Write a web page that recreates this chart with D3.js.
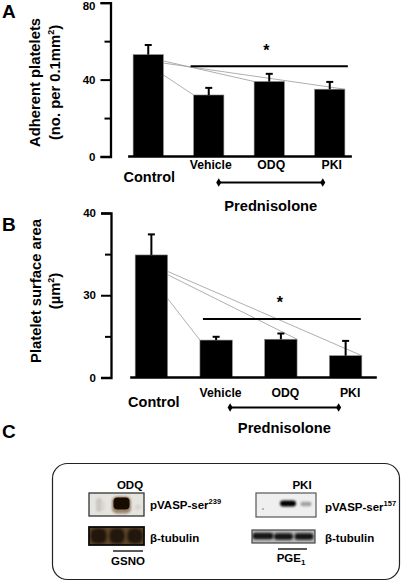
<!DOCTYPE html>
<html>
<head>
<meta charset="utf-8">
<script src="https://cdn.jsdelivr.net/npm/d3@7"></script>
<style>
  html, body { margin: 0; padding: 0; background: #fff; }
  svg { display: block; font-family: "Liberation Sans", Arial, sans-serif; font-weight: bold; }
</style>
</head>
<body>
<svg id="chart" width="403" height="582"></svg>
<script>
// ---------- DATA ----------
const categories = ["Control", "Vehicle", "ODQ", "PKI"];
const adherentMean = [53, 32, 39, 35];
const adherentErr = [5, 3.7, 4, 3.8];
const areaMean = [34.9, 24.55, 24.65, 22.65];
const areaErr = [2.5, 0.4, 0.7, 1.8];
const adherentTicks = [0, 20, 40, 60, 80];
const adherentTickLabels = ["0", "", "40", "", "80"];
const areaTicks = [20, 25, 30, 35, 40];
const areaTickLabels = ["0", "", "30", "", "40"];
const treatmentGroup = ["Vehicle", "ODQ", "PKI"];
const groupLabel = "Prednisolone";
// gray connector lines from Control bar (start value on Control's right edge)
const adherentConnectors = [
  { from: 49.7, to: "ODQ", edge: "left" },
  { from: 48.6, to: "PKI", edge: "right" },
  { from: 42.4, to: "Vehicle", edge: "left" }
];
const areaConnectors = [
  { from: 32.9, to: "PKI", edge: "right" },
  { from: 32.5, to: "ODQ", edge: "right" },
  { from: 29.6, to: "Vehicle", edge: "left" }
];
const adherentSig = { value: 47, star: 57 };
const areaSig = { value: 27.1, star: 29.6 };

// ---------- DRAW ----------
const svg = d3.select("#chart");
const defs = svg.append("defs");
[0.6, 1, 1.5, 2.2].forEach((s, i) => {
  defs.append("filter").attr("id", "blur" + i)
    .attr("x", "-50%").attr("y", "-50%").attr("width", "200%").attr("height", "200%")
    .append("feGaussianBlur").attr("stdDeviation", s);
});

function panel(cfg) {
  const g = svg.append("g");
  const y = d3.scaleLinear().domain(cfg.domain).range(cfg.yRange);
  const x = d3.scaleBand().domain(categories).range(cfg.xRange)
    .paddingInner(0.5).paddingOuter(0.25);
  const bw = x.bandwidth();
  const base = y(cfg.domain[0]);

  // y axis
  const ax = g.append("g").attr("transform", `translate(${cfg.axisX},0)`)
    .call(d3.axisLeft(y).tickValues(cfg.ticks).tickSizeOuter(0).tickSize(10).tickPadding(5)
      .tickFormat((d, i) => cfg.tickLabels[i]));
  ax.select(".domain").attr("stroke", "#000").attr("stroke-width", 2.3);
  ax.selectAll(".tick line").attr("stroke", "#000").attr("stroke-width", 2)
    .attr("x2", (d, i) => cfg.tickLabels[i] === "" ? -6 : -10);
  ax.selectAll(".tick text").attr("font-size", 11.5).attr("font-weight", "bold")
    .attr("font-family", "Liberation Sans, Arial, sans-serif").attr("fill", "#000")
    .attr("y", d => y(d) < 6 ? 3 : 0);

  // connectors
  cfg.connectors.forEach(c => {
    const i = categories.indexOf(c.to);
    const tx = x(c.to) + (c.edge === "right" ? bw : 0);
    g.append("line")
      .attr("x1", x("Control") + bw).attr("y1", y(c.from))
      .attr("x2", tx).attr("y2", y(cfg.mean[i]))
      .attr("stroke", "#9a9a9a").attr("stroke-width", 0.8);
  });

  // bars
  g.selectAll("rect.bar").data(categories).join("rect").attr("class", "bar")
    .attr("x", d => x(d)).attr("width", bw)
    .attr("y", (d, i) => y(cfg.mean[i]))
    .attr("height", (d, i) => base - y(cfg.mean[i]))
    .attr("fill", "#000").attr("stroke", "#888").attr("stroke-width", 0.6);

  // error bars
  categories.forEach((d, i) => {
    const cx = x(d) + bw / 2;
    const top = y(cfg.mean[i] + cfg.err[i]);
    g.append("line").attr("x1", cx).attr("x2", cx)
      .attr("y1", y(cfg.mean[i])).attr("y2", top)
      .attr("stroke", "#000").attr("stroke-width", 2);
    g.append("line").attr("x1", cx - 3.5).attr("x2", cx + 3.5)
      .attr("y1", top).attr("y2", top)
      .attr("stroke", "#000").attr("stroke-width", 2);
  });

  // baseline
  g.append("line").attr("x1", x("Control") - 5).attr("x2", x("PKI") + bw + cfg.baseExt)
    .attr("y1", base).attr("y2", base).attr("stroke", "#000").attr("stroke-width", 2.5);

  // significance
  g.append("line").attr("x1", x("Vehicle") + cfg.sigL).attr("x2", x("PKI") + bw + cfg.sigR)
    .attr("y1", y(cfg.sig.value)).attr("y2", y(cfg.sig.value))
    .attr("stroke", "#000").attr("stroke-width", 2);
  g.append("text").attr("x", x("ODQ") + bw / 2 + cfg.starDx).attr("y", y(cfg.sig.star) + 9)
    .attr("text-anchor", "middle").attr("font-size", 16).text("*");

  // category labels
  categories.forEach((d, i) => {
    if (d === "Control") {
      g.append("text").attr("x", x(d) + bw / 2 + cfg.ctrlDx).attr("y", cfg.ctrlY)
        .attr("text-anchor", "middle").attr("font-size", 14.5).text(d);
    } else {
      g.append("text").attr("x", x(d) + bw / 2 + cfg.labDx).attr("y", cfg.labY)
        .attr("text-anchor", "middle").attr("font-size", 12.2).text(d);
    }
  });

  // group bracket
  const bx1 = x(treatmentGroup[0]) + bw / 2 + cfg.brL;
  const bx2 = x(treatmentGroup[treatmentGroup.length - 1]) + bw / 2 + cfg.brR;
  g.append("line").attr("x1", bx1).attr("x2", bx2).attr("y1", cfg.brY).attr("y2", cfg.brY)
    .attr("stroke", "#000").attr("stroke-width", 2);
  [bx1, bx2].forEach(px => {
    g.append("path").attr("d", d3.symbol(d3.symbolDiamond, 22)())
      .attr("transform", `translate(${px},${cfg.brY})`).attr("fill", "#000");
  });
  g.append("text").attr("x", (bx1 + bx2) / 2 + cfg.grpDx).attr("y", cfg.grpY)
    .attr("text-anchor", "middle").attr("font-size", 14.7).text(groupLabel);

  // y title
  const t = g.append("text").attr("transform", `translate(${cfg.titleX1},${cfg.titleCY}) rotate(-90)`)
    .attr("text-anchor", "middle").attr("font-size", cfg.titleSize);
  t.text(cfg.title1);
  const t2 = g.append("text").attr("transform", `translate(${cfg.titleX2},${cfg.titleCY}) rotate(-90)`)
    .attr("text-anchor", "middle").attr("font-size", cfg.titleSize);
  cfg.title2(t2);

  // panel letter
  g.append("text").attr("x", 2).attr("y", cfg.letterY).attr("font-size", 19).text(cfg.letter);
}

panel({
  domain: [0, 80], yRange: [156.5, 2.7], xRange: [118, 360], axisX: 110.5,
  ticks: adherentTicks, tickLabels: adherentTickLabels,
  mean: adherentMean, err: adherentErr, connectors: adherentConnectors,
  sig: adherentSig, sigL: -3, sigR: 3, starDx: -3, baseExt: 7,
  ctrlDx: 1, ctrlY: 182, labDx: 2, labY: 169,
  brL: 10, brR: -7, brY: 182.5, grpDx: 0, grpY: 211,
  title1: "Adherent platelets",
  title2: t => { t.append("tspan").text("(no. per 0.1mm");
                 t.append("tspan").attr("font-size", 9).attr("dy", -6).text("2");
                 t.append("tspan").attr("dy", 6).text(")"); },
  titleX1: 40, titleX2: 60, titleCY: 82.5, titleSize: 14.8,
  letter: "A", letterY: 18
});

panel({
  domain: [20, 40], yRange: [377.5, 213], xRange: [119, 378], axisX: 111,
  ticks: areaTicks, tickLabels: areaTickLabels,
  mean: areaMean, err: areaErr, connectors: areaConnectors,
  sig: areaSig, sigL: 3, sigR: -1, starDx: -1, baseExt: 15,
  ctrlDx: 2.5, ctrlY: 407, labDx: 4.5, labY: 397,
  brL: 14, brR: -7, brY: 407.5, grpDx: 0, grpY: 433,
  title1: "Platelet surface area",
  title2: t => { t.append("tspan").text("(µm");
                 t.append("tspan").attr("font-size", 9).attr("dy", -6).text("2");
                 t.append("tspan").attr("dy", 6).text(")"); },
  titleX1: 41, titleX2: 60, titleCY: 291, titleSize: 14.8,
  letter: "B", letterY: 231
});

// ---------- PANEL C (western blots) ----------
const c = svg.append("g");
c.append("text").attr("x", 2).attr("y", 438).attr("font-size", 19).text("C");
c.append("rect").attr("x", 52.5).attr("y", 463.5).attr("width", 347).attr("height", 116)
  .attr("rx", 15).attr("ry", 15).attr("fill", "none").attr("stroke", "#222").attr("stroke-width", 1.2);

// band: [cx, cy, w, h, colour, blurIndex, opacity, cornerRadius]
function blot(x0, y0, w, h, bg, border, bwid, bands) {
  const g = c.append("g");
  const cp = "clip" + x0 + "_" + y0;
  defs.append("clipPath").attr("id", cp).append("rect").attr("x", x0).attr("y", y0).attr("width", w).attr("height", h);
  g.append("rect").attr("x", x0).attr("y", y0).attr("width", w).attr("height", h).attr("fill", bg);
  const inner = g.append("g").attr("clip-path", `url(#${cp})`);
  bands.forEach(b => {
    inner.append("rect").attr("x", b[0] - b[2] / 2).attr("y", b[1] - b[3] / 2)
      .attr("width", b[2]).attr("height", b[3]).attr("rx", b[7] || 3).attr("ry", b[7] || 3)
      .attr("fill", b[4]).attr("filter", `url(#blur${b[5]})`).attr("opacity", b[6] == null ? 1 : b[6]);
  });
  g.append("rect").attr("x", x0).attr("y", y0).attr("width", w).attr("height", h)
    .attr("fill", "none").attr("stroke", border).attr("stroke-width", bwid);
}

// ODQ / GSNO
blot(89, 493, 55, 23, "#e6e4df", "#333", 1.3, [
  [99, 505, 6, 14, "#c4c0b8", 1, 0.8, 3],
  [103, 506, 4, 10, "#d8d4cc", 1, 0.8, 2],
  [121.5, 505, 19, 17, "#7a5a3a", 1, 0.7, 5],
  [121.5, 503.5, 16, 12, "#140a04", 0, 1, 4],
  [138, 507, 6, 5, "#d2cec6", 1, 0.7, 2]
]);
blot(89, 527, 55, 18, "#5c452a", "#0a0a0a", 1.8, [
  [98.5, 536, 16, 15, "#22160a", 1, 1, 6],
  [117, 536, 15, 15, "#22160a", 1, 1, 6],
  [135, 536, 15, 15, "#22160a", 1, 1, 6]
]);
// PKI / PGE1
blot(256, 493, 60, 24, "#efefef", "#555", 1.2, [
  [288, 503.5, 16, 6, "#050505", 0.5 > 0 ? 1 : 0, 1, 3],
  [306, 504, 11, 4.5, "#9a9a9a", 1, 0.9, 2],
  [263, 509, 1.4, 1.4, "#555", 0, 1, 0.7]
]);
blot(252, 530, 63, 13, "#b9b9b9", "#444", 1.2, [
  [263, 536, 21, 6.5, "#141414", 1, 1, 3],
  [283.5, 536.5, 19, 6.5, "#141414", 1, 1, 3],
  [304, 536.5, 19, 6.5, "#141414", 1, 1, 3]
]);

function label(x, y, parts, anchor) {
  const t = c.append("text").attr("x", x).attr("y", y).attr("font-size", 11.5)
    .attr("text-anchor", anchor || "start");
  parts.forEach(p => {
    const s = t.append("tspan").text(p[0]);
    if (p[1] === "sup") s.attr("font-size", 7.5).attr("dy", -5);
    if (p[1] === "sub") s.attr("font-size", 8).attr("dy", 3);
  });
  return t;
}
label(130, 489, [["ODQ"]], "middle");
label(302, 489, [["PKI"]], "middle");
label(150, 509, [["pVASP-ser"], ["239", "sup"]]);
label(325, 511, [["pVASP-ser"], ["157", "sup"]]);
label(150, 542, [["β-tubulin"]]);
label(325, 542, [["β-tubulin"]]);
c.append("line").attr("x1", 113).attr("x2", 143).attr("y1", 551).attr("y2", 551).attr("stroke", "#000").attr("stroke-width", 1.3);
c.append("line").attr("x1", 278).attr("x2", 307).attr("y1", 549).attr("y2", 549).attr("stroke", "#000").attr("stroke-width", 1.3);
label(128, 565, [["GSNO"]], "middle");
label(291, 562, [["PGE"], ["1", "sub"]], "middle");
</script>
</body>
</html>
